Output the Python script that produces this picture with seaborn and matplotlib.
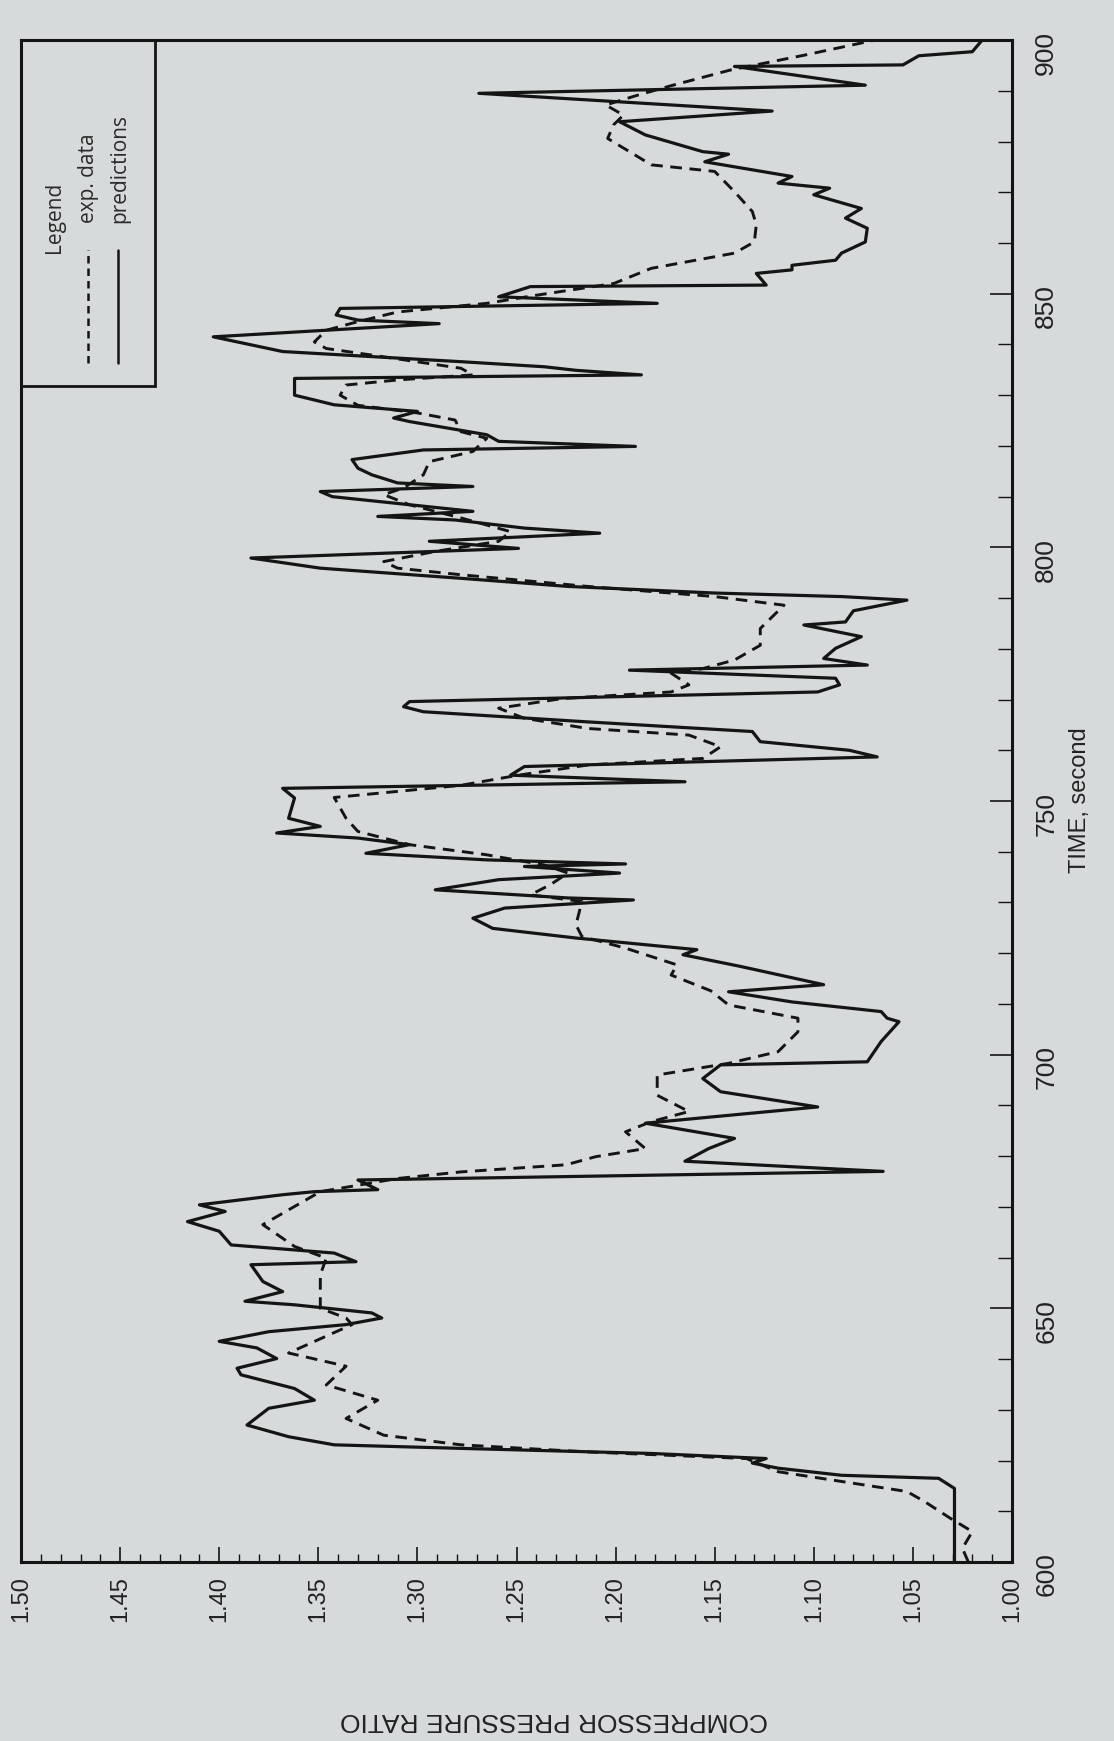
import matplotlib
matplotlib.use("Agg")
import matplotlib.pyplot as plt
import pandas as pd
import seaborn as sns
from matplotlib.patches import Rectangle
from matplotlib.ticker import FormatStrFormatter, MultipleLocator

pred_time = [600.0, 614.5, 616.5, 617.1, 618.5, 619.5, 620.4, 621.4, 622.4, 623.1,
             624.7, 627.0, 630.3, 631.9, 634.2, 636.9, 638.2, 640.1, 642.2, 643.5,
             645.4, 646.8, 648.1, 649.1, 650.7, 651.4, 653.3, 655.3, 658.6, 659.2,
             660.9, 662.5, 665.2, 667.1, 669.1, 670.4, 672.4, 673.0, 673.4, 675.3,
             677.0, 679.0, 681.5, 683.5, 686.5, 689.7, 692.7, 695.3, 698.0, 698.6,
             702.6, 706.5, 707.2, 708.5, 710.4, 712.4, 713.8, 714.4, 717.4, 719.7,
             720.7, 723.0, 724.9, 726.9, 728.9, 730.5, 730.9, 732.5, 734.5, 735.8,
             737.1, 737.6, 738.4, 739.7, 741.4, 742.7, 743.7, 745.0, 746.6, 750.6,
             752.5, 753.8, 755.1, 756.8, 758.7, 760.0, 761.7, 763.7, 765.6, 767.6,
             768.6, 769.6, 771.5, 772.9, 774.2, 775.8, 776.8, 778.1, 780.1, 782.4,
             784.7, 785.3, 787.5, 789.6, 790.3, 791.0, 792.3, 793.9, 795.9, 797.9,
             799.8, 801.2, 802.8, 803.8, 805.4, 806.1, 807.1, 810.0, 811.0, 812.0,
             812.7, 814.3, 815.6, 817.3, 819.2, 819.9, 820.9, 822.2, 824.8, 825.5,
             826.8, 828.1, 830.0, 833.3, 834.0, 834.9, 835.6, 836.6, 838.6, 841.5,
             844.1, 844.8, 845.8, 847.1, 848.1, 849.4, 851.4, 851.7, 854.0, 854.7,
             855.6, 856.6, 858.0, 860.2, 862.9, 864.9, 866.8, 869.5, 870.8, 871.8,
             873.1, 876.0, 877.5, 878.0, 881.3, 883.9, 886.0, 889.5, 891.1, 894.8,
             895.1, 896.9, 897.7, 900.0]
pred_ratio = [1.029, 1.029, 1.037, 1.086, 1.118, 1.131, 1.124, 1.182, 1.278, 1.342,
              1.365, 1.386, 1.375, 1.352, 1.362, 1.389, 1.391, 1.371, 1.381, 1.400,
              1.375, 1.336, 1.318, 1.323, 1.362, 1.387, 1.368, 1.378, 1.384, 1.331,
              1.342, 1.394, 1.400, 1.416, 1.397, 1.410, 1.368, 1.352, 1.320, 1.330,
              1.065, 1.165, 1.153, 1.140, 1.185, 1.098, 1.147, 1.156, 1.147, 1.073,
              1.066, 1.057, 1.063, 1.066, 1.111, 1.143, 1.095, 1.102, 1.137, 1.166,
              1.159, 1.220, 1.262, 1.272, 1.256, 1.191, 1.224, 1.291, 1.259, 1.198,
              1.246, 1.195, 1.265, 1.326, 1.304, 1.330, 1.371, 1.349, 1.365, 1.362,
              1.368, 1.165, 1.253, 1.246, 1.068, 1.082, 1.127, 1.131, 1.214, 1.297,
              1.307, 1.304, 1.098, 1.087, 1.089, 1.193, 1.073, 1.095, 1.089, 1.076,
              1.105, 1.084, 1.080, 1.053, 1.086, 1.150, 1.224, 1.278, 1.349, 1.384,
              1.249, 1.294, 1.208, 1.246, 1.281, 1.320, 1.272, 1.343, 1.349, 1.272,
              1.310, 1.323, 1.330, 1.333, 1.297, 1.190, 1.259, 1.265, 1.304, 1.312,
              1.300, 1.342, 1.362, 1.362, 1.187, 1.220, 1.236, 1.278, 1.368, 1.403,
              1.289, 1.330, 1.341, 1.339, 1.179, 1.259, 1.243, 1.124, 1.129, 1.111,
              1.111, 1.089, 1.086, 1.074, 1.073, 1.084, 1.076, 1.100, 1.092, 1.118,
              1.111, 1.155, 1.143, 1.156, 1.185, 1.198, 1.121, 1.269, 1.074, 1.140,
              1.055, 1.047, 1.020, 1.015]

exp_time = [600.0, 602.7, 606.0, 608.6, 611.9, 613.9, 617.8, 620.4, 621.7, 623.1,
            625.0, 628.3, 631.9, 634.9, 638.6, 641.2, 646.8, 648.1, 650.0, 656.6,
            659.9, 662.2, 666.5, 673.0, 675.6, 676.9, 678.3, 679.9, 681.5, 684.8,
            686.8, 688.8, 692.0, 696.0, 698.3, 700.6, 704.5, 707.2, 709.8, 712.6,
            715.7, 717.7, 721.0, 723.3, 725.6, 730.2, 731.5, 733.5, 735.8, 737.4,
            739.4, 741.4, 744.0, 746.6, 750.7, 753.1, 755.1, 757.1, 758.4, 760.7,
            763.0, 764.3, 766.3, 768.3, 770.2, 771.5, 772.9, 775.2, 776.1, 777.8,
            780.7, 784.0, 788.6, 790.3, 792.3, 794.6, 795.9, 797.2, 799.2, 801.2,
            803.1, 805.8, 808.4, 810.4, 811.7, 814.3, 816.9, 818.9, 821.5, 822.8,
            825.1, 826.5, 828.0, 830.0, 832.0, 833.0, 834.0, 835.3, 837.9, 839.2,
            840.5, 842.8, 844.5, 846.4, 848.1, 849.7, 852.0, 855.0, 858.0, 860.2,
            863.6, 866.2, 870.1, 874.1, 875.4, 880.6, 883.3, 885.2, 887.2, 889.0,
            891.0, 894.1, 897.0, 900.0]
exp_ratio = [1.022, 1.025, 1.020, 1.031, 1.044, 1.053, 1.118, 1.134, 1.214, 1.278,
             1.317, 1.336, 1.320, 1.346, 1.336, 1.365, 1.333, 1.336, 1.349, 1.349,
             1.346, 1.362, 1.378, 1.349, 1.310, 1.278, 1.225, 1.210, 1.185, 1.195,
             1.182, 1.163, 1.179, 1.179, 1.143, 1.118, 1.108, 1.108, 1.143, 1.152,
             1.172, 1.169, 1.195, 1.217, 1.220, 1.217, 1.243, 1.233, 1.224, 1.236,
             1.265, 1.304, 1.330, 1.336, 1.342, 1.278, 1.249, 1.214, 1.156, 1.147,
             1.163, 1.214, 1.246, 1.259, 1.227, 1.172, 1.163, 1.172, 1.156, 1.140,
             1.127, 1.127, 1.115, 1.150, 1.214, 1.278, 1.310, 1.317, 1.291, 1.259,
             1.253, 1.278, 1.304, 1.317, 1.307, 1.297, 1.294, 1.272, 1.265, 1.278,
             1.281, 1.300, 1.330, 1.339, 1.336, 1.310, 1.272, 1.278, 1.323, 1.346,
             1.352, 1.346, 1.330, 1.310, 1.265, 1.240, 1.201, 1.182, 1.140, 1.130,
             1.129, 1.131, 1.140, 1.150, 1.182, 1.204, 1.201, 1.196, 1.205, 1.190,
             1.172, 1.142, 1.105, 1.069]

ratio_range = (1.50, 1.00)
time_range = (600, 900)

BG = "#d6dadb"
INK = "#141414"

sns.set_theme(style="white")
plt.rcParams["font.family"] = ["Liberation Sans", "DejaVu Sans"]

fig = plt.figure(figsize=(11.14, 17.41), dpi=100, facecolor=BG)
# the page is turned: time runs up the sheet, pressure ratio runs right-to-left
ax = fig.add_axes([0.0189, 0.1028, 0.8895, 0.8742], facecolor=BG)

pred_df = pd.DataFrame({"time": pred_time, "ratio": pred_ratio})
exp_df = pd.DataFrame({"time": exp_time, "ratio": exp_ratio})

sns.lineplot(data=exp_df, x="ratio", y="time", orient="y", sort=False, estimator=None,
             color=INK, linewidth=2.1, linestyle=(0, (4, 2.6)), ax=ax)
sns.lineplot(data=pred_df, x="ratio", y="time", orient="y", sort=False, estimator=None,
             color=INK, linewidth=2.3, ax=ax)

# legend box drawn by hand, rotated like the rest of the sheet
ax.add_patch(Rectangle((0.0, 0.773), 0.135, 0.227, transform=ax.transAxes,
                       fill=False, edgecolor=INK, linewidth=2.0, zorder=5))
ax.plot([0.0676, 0.0676], [0.788, 0.862], transform=ax.transAxes, color=INK,
        linewidth=1.8, linestyle=(0, (3, 2)))
ax.plot([0.098, 0.098], [0.788, 0.862], transform=ax.transAxes, color=INK, linewidth=1.8)
leg_font = dict(family=["Open Sans", "DejaVu Sans"], fontsize=15, color="#2a2a2a",
                rotation=90, ha="center", va="bottom", transform=ax.transAxes)
ax.text(0.034, 0.860, "Legend", **leg_font)
ax.text(0.0676, 0.880, "exp. data", **leg_font)
ax.text(0.100, 0.880, "predictions", **leg_font)

ax.set_xlim(*ratio_range)
ax.set_ylim(*time_range)
ax.set_xlabel("")
ax.set_ylabel("")

ax.xaxis.set_major_locator(MultipleLocator(0.05))
ax.xaxis.set_minor_locator(MultipleLocator(0.01))
ax.xaxis.set_major_formatter(FormatStrFormatter("%.2f"))
ax.yaxis.set_major_locator(MultipleLocator(50))
ax.yaxis.set_minor_locator(MultipleLocator(10))
ax.yaxis.tick_right()

ax.tick_params(axis="x", which="both", direction="in", bottom=True, top=False,
               colors=INK, labelcolor="#222222", labelsize=17, labelrotation=90, pad=10)
ax.tick_params(axis="x", which="major", length=11, width=1.2)
ax.tick_params(axis="x", which="minor", length=6, width=1.0)
ax.tick_params(axis="y", which="both", direction="in", right=True, left=False,
               labelright=True, labelleft=False, colors=INK, labelcolor="#222222",
               labelsize=19, labelrotation=90, pad=16)
ax.tick_params(axis="y", which="major", length=16, width=1.2)
ax.tick_params(axis="y", which="minor", length=10, width=1.0)

for side in ax.spines.values():
    side.set_visible(True)
    side.set_color(INK)
    side.set_linewidth(2.2)

fig.text(554 / 1114, 1 - 1720 / 1741, "COMPRESSOR PRESSURE RATIO", rotation=180,
         ha="center", va="center", fontsize=19, color="#222222")
fig.text(1080 / 1114, 1 - 800 / 1741, "TIME, second", rotation=90,
         ha="center", va="center", fontsize=17, color="#222222")

fig.savefig("out.png", dpi=100, facecolor=BG)
